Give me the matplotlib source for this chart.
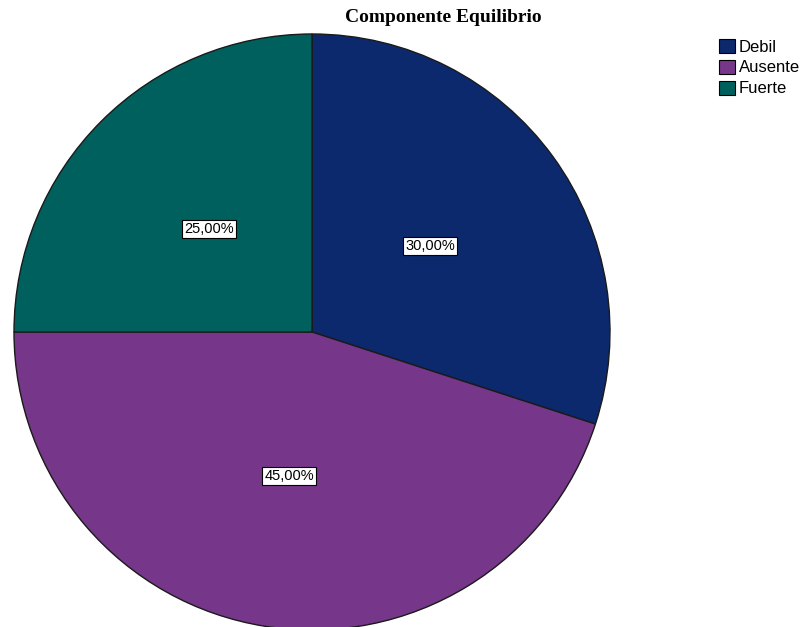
import matplotlib.pyplot as plt
from matplotlib.patches import Patch

categorias = ['Debil', 'Ausente', 'Fuerte']
porcentajes = [30.0, 45.0, 25.0]
colores = ['#0c296d', '#76368a', '#00605e']

W, H = 806, 627
fig = plt.figure(figsize=(W / 100, H / 100), dpi=100)

# pie axes placed in pixel terms: centre (312, 332), radius 298
cx, cy, r = 312, 332, 298
ax = fig.add_axes([(cx - r) / W, (H - cy - r) / H, 2 * r / W, 2 * r / H])

wedges, texts = ax.pie(porcentajes, colors=colores, startangle=90, counterclock=False,
                       radius=1, labels=['{:.2f}%'.format(p).replace('.', ',') for p in porcentajes],
                       labeldistance=0.49,
                       wedgeprops=dict(edgecolor='#1a1a1a', linewidth=1.0),
                       textprops=dict(family='Liberation Sans', fontsize=10.5, color='black',
                                      ha='center', va='center'))
for t in texts:
    t.set_bbox(dict(facecolor='white', edgecolor='black', linewidth=0.8, pad=1.5))

# pie() resets the limits, so fix them afterwards
ax.set_xlim(-1, 1)
ax.set_ylim(-1, 1)
ax.set_aspect('equal')
ax.axis('off')

fig.text(443 / W, 1 - 18 / H, 'Componente Equilibrio', ha='center', va='center',
         family='Liberation Serif', fontweight='bold', fontsize=14)

handles = [Patch(facecolor=c, edgecolor='black', linewidth=0.8) for c in colores]
fig.legend(handles, categorias, loc='upper left', bbox_to_anchor=(707 / W, 1 - 27 / H),
           frameon=False, prop=dict(family='Liberation Sans', size=12),
           handlelength=0.95, handleheight=0.95, handletextpad=0.25, labelspacing=0.3,
           borderpad=0.2)

fig.savefig('out.png', dpi=100)
